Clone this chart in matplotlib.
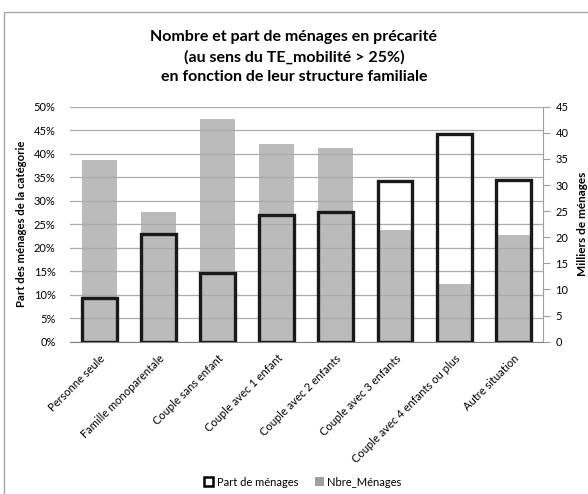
import matplotlib
matplotlib.use("Agg")
import matplotlib.pyplot as plt
from matplotlib.patches import Patch, Rectangle
import numpy as np

plt.rcParams['font.family'] = ['Lato', 'DejaVu Sans']

categories = ["Personne seule", "Famille monoparentale", "Couple sans enfant",
              "Couple avec 1 enfant", "Couple avec 2 enfants", "Couple avec 3 enfants",
              "Couple avec 4 enfants ou plus", "Autre situation"]
part_menages = [9.3, 22.9, 14.7, 26.9, 27.6, 34.1, 44.1, 34.3]      # % (left axis)
nbre_menages = [34.7, 24.9, 42.6, 37.8, 37.0, 21.3, 11.0, 20.5]     # milliers (right axis)
left_ticks = [0, 5, 10, 15, 20, 25, 30, 35, 40, 45, 50]
right_ticks = [0, 5, 10, 15, 20, 25, 30, 35, 40, 45]

fig = plt.figure(figsize=(5.88, 4.94), dpi=100)
# chart border (right and bottom edges fall outside the image)
fig.patches.append(Rectangle((4/588, -10/494), 600/588, (494-12+10)/494, transform=fig.transFigure,
                             fill=False, edgecolor='#A8A8A8', linewidth=1))

ax = fig.add_axes([69.5/588, 1-341.7/494, (543-69.5)/588, (341.7-106.7)/494])
ax2 = ax.twinx()
ax.set_zorder(ax2.get_zorder() + 1)
ax.patch.set_visible(False)

x = np.arange(len(categories))
w = 0.59
ax2.bar(x, nbre_menages, width=w, color='#BBBBBB', edgecolor='none', zorder=2)
ax.bar(x, part_menages, width=w, facecolor='none', edgecolor='#1A1A1A', linewidth=2.4, zorder=3)

ax.set_xlim(-0.5, len(categories) - 0.5)
ax.set_ylim(0, 50)
ax2.set_ylim(0, 45)
ax.set_yticks(left_ticks)
ax.set_yticklabels([f"{t}%" for t in left_ticks], fontsize=8)
ax2.set_yticks(right_ticks)
ax2.set_yticklabels([str(t) for t in right_ticks], fontsize=8)

ax.yaxis.grid(True, color='#ABABAB', linewidth=0.9, zorder=0)
ax.set_axisbelow(True)

for a in (ax, ax2):
    a.spines['top'].set_visible(False)
    a.spines['left'].set_visible(False)
ax.spines['right'].set_visible(False)
ax2.spines['bottom'].set_visible(False)
ax2.spines['right'].set_color('#A0A0A0')
ax.spines['bottom'].set_color('#808080')
ax.tick_params(axis='y', length=0, pad=10)
ax2.tick_params(axis='y', length=5, color='#A0A0A0', pad=4)

ax.set_xticks(x)
ax.set_xticklabels(categories, rotation=45, ha='right', rotation_mode='anchor', fontsize=8)
ax.tick_params(axis='x', length=0, pad=8)

ax.set_ylabel("Part des ménages de la catégorie", fontsize=8.2, fontweight='bold', labelpad=5)
ax2.set_ylabel("Milliers de ménages", fontsize=8.5, fontweight='bold', labelpad=6)

fig.text(0.5, 1-57/494, "Nombre et part de ménages en précarité\n(au sens du TE_mobilité > 25%)\nen fonction de leur structure familiale",
         ha='center', va='center', fontsize=11.5, fontweight='bold', linespacing=1.55)

handles = [Patch(facecolor='white', edgecolor='black', linewidth=1.8, label='Part de ménages'),
           Patch(facecolor='#A0A0A0', edgecolor='none', label='Nbre_Ménages')]
fig.legend(handles=handles, loc='center', bbox_to_anchor=(0.515, 1-482/494), ncol=2,
           frameon=False, fontsize=8, handlelength=0.8, handleheight=0.8,
           handletextpad=0.3, columnspacing=1.5)

fig.savefig("out.png", dpi=100)
